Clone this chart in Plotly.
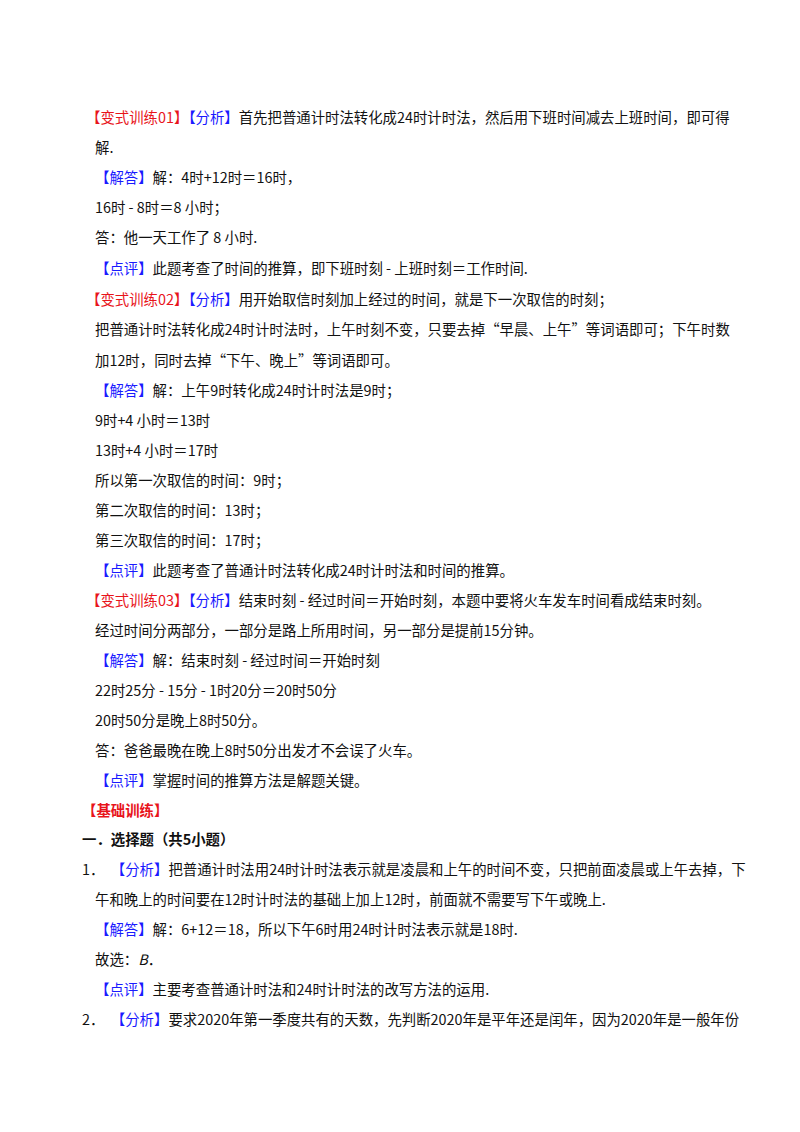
import plotly.graph_objects as go

R = "#e8141b"
B = "#1a1aff"
K = "#111111"

# each line: (y, x, [(text, color, bold)])
lines = [
    (108, 76, [("【变式训练01】", R, 0), ("【分析】", B, 0), ("首先把普通计时法转化成24时计时法，然后用下班时间减去上班时间，即可得", K, 0)]),
    (138, 85, [("解.", K, 0)]),
    (168, 85, [("【解答】", B, 0), ("解：4时+12时＝16时，", K, 0)]),
    (198, 85, [("16时 - 8时＝8 小时；", K, 0)]),
    (228, 85, [("答：他一天工作了 8 小时.", K, 0)]),
    (259, 85, [("【点评】", B, 0), ("此题考查了时间的推算，即下班时刻 - 上班时刻＝工作时间.", K, 0)]),
    (290, 76, [("【变式训练02】", R, 0), ("【分析】", B, 0), ("用开始取信时刻加上经过的时间，就是下一次取信的时刻；", K, 0)]),
    (320, 85, [("把普通计时法转化成24时计时法时，上午时刻不变，只要去掉“早晨、上午”等词语即可；下午时数", K, 0)]),
    (351, 85, [("加12时，同时去掉“下午、晚上”等词语即可。", K, 0)]),
    (381, 85, [("【解答】", B, 0), ("解：上午9时转化成24时计时法是9时；", K, 0)]),
    (411, 85, [("9时+4 小时＝13时", K, 0)]),
    (441, 85, [("13时+4 小时＝17时", K, 0)]),
    (471, 85, [("所以第一次取信的时间：9时；", K, 0)]),
    (501, 85, [("第二次取信的时间：13时；", K, 0)]),
    (531, 85, [("第三次取信的时间：17时；", K, 0)]),
    (561, 85, [("【点评】", B, 0), ("此题考查了普通计时法转化成24时计时法和时间的推算。", K, 0)]),
    (591, 76, [("【变式训练03】", R, 0), ("【分析】", B, 0), ("结束时刻 - 经过时间＝开始时刻，本题中要将火车发车时间看成结束时刻。", K, 0)]),
    (621, 85, [("经过时间分两部分，一部分是路上所用时间，另一部分是提前15分钟。", K, 0)]),
    (651, 85, [("【解答】", B, 0), ("解：结束时刻 - 经过时间＝开始时刻", K, 0)]),
    (681, 85, [("22时25分 - 15分 - 1时20分＝20时50分", K, 0)]),
    (711, 85, [("20时50分是晚上8时50分。", K, 0)]),
    (741, 85, [("答：爸爸最晚在晚上8时50分出发才不会误了火车。", K, 0)]),
    (771, 85, [("【点评】", B, 0), ("掌握时间的推算方法是解题关键。", K, 0)]),
    (801, 72, [("【基础训练】", R, 1)]),
    (830, 72, [("一．选择题（共5小题）", K, 1)]),
    (860, 72, [("1．  ", K, 0), ("【分析】", B, 0), ("把普通计时法用24时计时法表示就是凌晨和上午的时间不变，只把前面凌晨或上午去掉，下", K, 0)]),
    (890, 85, [("午和晚上的时间要在12时计时法的基础上加上12时，前面就不需要写下午或晚上.", K, 0)]),
    (920, 85, [("【解答】", B, 0), ("解：6+12＝18，所以下午6时用24时计时法表示就是18时.", K, 0)]),
    (950, 85, [("故选：<i>B</i>．", K, 0)]),
    (980, 85, [("【点评】", B, 0), ("主要考查普通计时法和24时计时法的改写方法的运用.", K, 0)]),
    (1010, 72, [("2．  ", K, 0), ("【分析】", B, 0), ("要求2020年第一季度共有的天数，先判断2020年是平年还是闰年，因为2020年是一般年份", K, 0)]),
]

fig = go.Figure()
for y, x, parts in lines:
    txt = ""
    for t, c, b in parts:
        s = f"<span style='color:{c}'>{t}</span>"
        if b:
            s = f"<b>{s}</b>"
        txt += s
    fig.add_annotation(x=x, y=y, xref="x", yref="y", text=txt, showarrow=False,
                       xanchor="left", yanchor="middle",
                       font=dict(family="Noto Sans CJK SC", size=14.4, color=K))

fig.update_xaxes(range=[0, 800], visible=False)
fig.update_yaxes(range=[1132, 0], visible=False)
fig.update_layout(width=800, height=1132, margin=dict(l=0, r=0, t=0, b=0),
                  paper_bgcolor="white", plot_bgcolor="white", showlegend=False)
fig.write_html("out.html")
